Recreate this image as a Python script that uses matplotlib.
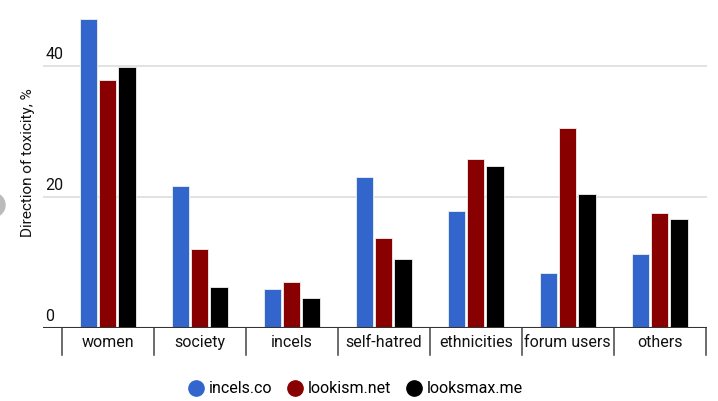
import numpy as np
import matplotlib
matplotlib.use('Agg')
import matplotlib.pyplot as plt
from matplotlib.lines import Line2D
from matplotlib.patches import Circle

plt.rcParams['font.family'] = ['Roboto', 'DejaVu Sans']

categories = ['women', 'society', 'incels', 'self-hatred', 'ethnicities', 'forum users', 'others']
series_names = ['incels.co', 'lookism.net', 'looksmax.me']
incels_co = [47.2, 21.7, 5.9, 23.0, 17.9, 8.4, 11.3]
lookism_net = [37.8, 12.1, 7.0, 13.8, 25.8, 30.5, 17.5]
looksmax_me = [39.8, 6.2, 4.6, 10.5, 24.7, 20.4, 16.6]
yticks = [0, 20, 40]
colors = ['#3366cc', '#880000', '#000000']

fig = plt.figure(figsize=(7.18, 4.01), dpi=100)
ax = fig.add_axes([0.0599, 0.182, 0.9248, 0.793])

x = np.arange(len(categories))
offsets = [-0.21, 0.0, 0.21]
for vals, off, c in zip([incels_co, lookism_net, looksmax_me], offsets, colors):
    ax.bar(x + off, vals, width=0.19, color=c, edgecolor='#f0f0f0', linewidth=0.6, zorder=3)

ax.set_xlim(-0.703, 6.514)
ax.set_ylim(0, 48.5)

# gridlines and in-plot tick labels
for t in yticks:
    if t > 0:
        ax.axhline(t, color='#dddddd', linewidth=1.2, zorder=1)
    ax.text(-0.68, t + 0.6, str(t), ha='left', va='bottom', fontsize=11.5, color='#111111')
ax.axhline(0, color='#333333', linewidth=1.5, zorder=4)

ax.set_yticks([])
ax.set_xticks([])
for s in ax.spines.values():
    s.set_visible(False)

# category separators and labels below the axis
for b in np.arange(-0.5, len(categories)):
    ax.plot([b, b], [0, -4.1], color='#444444', linewidth=1.1, clip_on=False)
for xi, name in zip(x, categories):
    ax.text(xi, -2.2, name, ha='center', va='center', fontsize=11.5, color='#111111')

fig.text(0.039, 0.594, 'Direction of toxicity, %', rotation=90, ha='center', va='center',
         fontsize=11, color='#111111')

handles = [Line2D([0], [0], marker='o', linestyle='', markersize=11, color=c) for c in colors]
fig.legend(handles, series_names, loc='center', bbox_to_anchor=(0.495, 0.03), ncol=3,
           frameon=False, fontsize=11.5, handletextpad=0.3, columnspacing=0.9, handlelength=1.0)

fig.patches.append(Circle((-7, 196), 12, transform=None, color='#bbbbbb'))

fig.savefig('out.png', dpi=100)
